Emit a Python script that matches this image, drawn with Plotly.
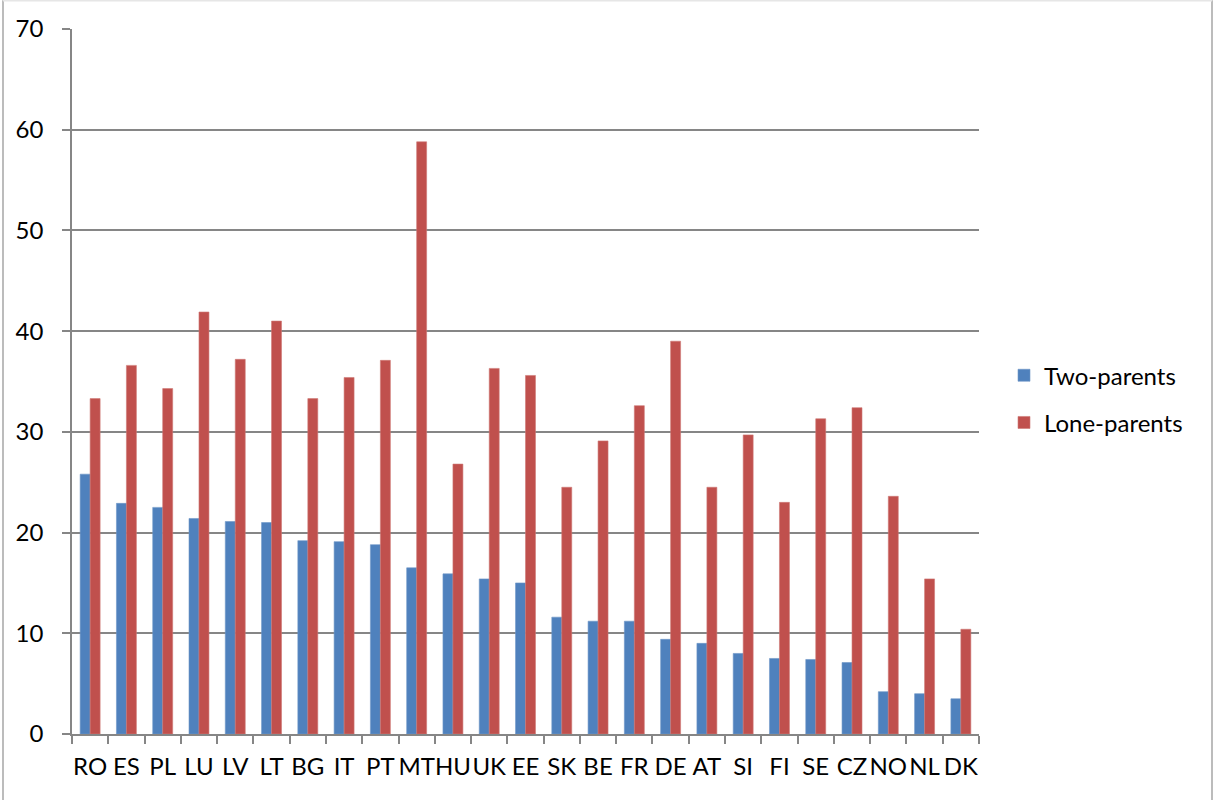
import plotly.graph_objects as go

countries = ["RO", "ES", "PL", "LU", "LV", "LT", "BG", "IT", "PT", "MT", "HU", "UK", "EE",
             "SK", "BE", "FR", "DE", "AT", "SI", "FI", "SE", "CZ", "NO", "NL", "DK"]
two_parents = [25.8, 22.9, 22.5, 21.4, 21.1, 21.0, 19.2, 19.1, 18.8, 16.5, 15.9, 15.4, 15.0,
               11.6, 11.2, 11.2, 9.4, 9.0, 8.0, 7.5, 7.4, 7.1, 4.2, 4.0, 3.5]
lone_parents = [33.3, 36.6, 34.3, 41.9, 37.2, 41.0, 33.3, 35.4, 37.1, 58.8, 26.8, 36.3, 35.6,
                24.5, 29.1, 32.6, 39.0, 24.5, 29.7, 23.0, 31.3, 32.4, 23.6, 15.4, 10.4]
y_ticks = [0, 10, 20, 30, 40, 50, 60, 70]

W, H = 1213, 800
L, R, T, B = 72, 979, 28.7, 734
FONT = "Lato, Open Sans, sans-serif"
FS = 24
GRID = "#868686"


def px_x(px):
    return (px - L) / (R - L)


def px_y(py):
    return (B - py) / (B - T)


fig = go.Figure()
fig.add_trace(go.Bar(
    x=countries, y=two_parents, name="Two-parents", legendgroup="a",
    marker=dict(color="#4F81BD", line=dict(color="#6F97C8", width=0.6)),
))
fig.add_trace(go.Bar(
    x=countries, y=lone_parents, name="Lone-parents", legendgroup="b",
    marker=dict(color="#C0504D", line=dict(color="#CF7876", width=0.6)),
))

# outer chart frame
frame = dict(color="#A6A6A6", width=1.5)
fig.add_shape(type="line", xref="paper", yref="paper",
              x0=px_x(3), x1=px_x(3), y0=px_y(0), y1=px_y(800), line=frame)
fig.add_shape(type="line", xref="paper", yref="paper",
              x0=px_x(1212), x1=px_x(1212), y0=px_y(0), y1=px_y(800), line=frame)
fig.add_shape(type="line", xref="paper", yref="paper",
              x0=px_x(3), x1=px_x(1212), y0=px_y(0.5), y1=px_y(0.5),
              line=dict(color="#E6E6E6", width=1.5))

fig.update_layout(
    width=W, height=H,
    margin=dict(l=L, r=W - R, t=T, b=H - B),
    paper_bgcolor="white", plot_bgcolor="white",
    barmode="group", bargap=0.45, bargroupgap=0,
    font=dict(family=FONT, size=FS, color="black"),
    legend=dict(
        x=px_x(1004), xanchor="left", y=px_y(353), yanchor="top",
        traceorder="grouped", tracegroupgap=13,
        font=dict(family=FONT, size=FS, color="black"),
        bgcolor="rgba(0,0,0,0)",
    ),
    xaxis=dict(
        type="category", range=[-0.5, len(countries) - 0.5],
        showline=True, linecolor=GRID, linewidth=1.5,
        ticks="outside", tickson="boundaries", ticklen=8, tickcolor=GRID, tickwidth=1.5,
        showgrid=False, ticklabelstandoff=10, tickangle=0,
        tickfont=dict(family=FONT, size=FS, color="black"),
    ),
    yaxis=dict(
        range=[0, 70], tickvals=y_ticks,
        showline=True, linecolor=GRID, linewidth=1.5,
        ticks="outside", ticklen=8, tickcolor=GRID, tickwidth=1.5,
        showgrid=True, gridcolor=GRID, gridwidth=1.5,
        zeroline=False, ticklabelstandoff=14,
        tickfont=dict(family=FONT, size=FS, color="black"),
    ),
)

fig.write_html("out.html")
